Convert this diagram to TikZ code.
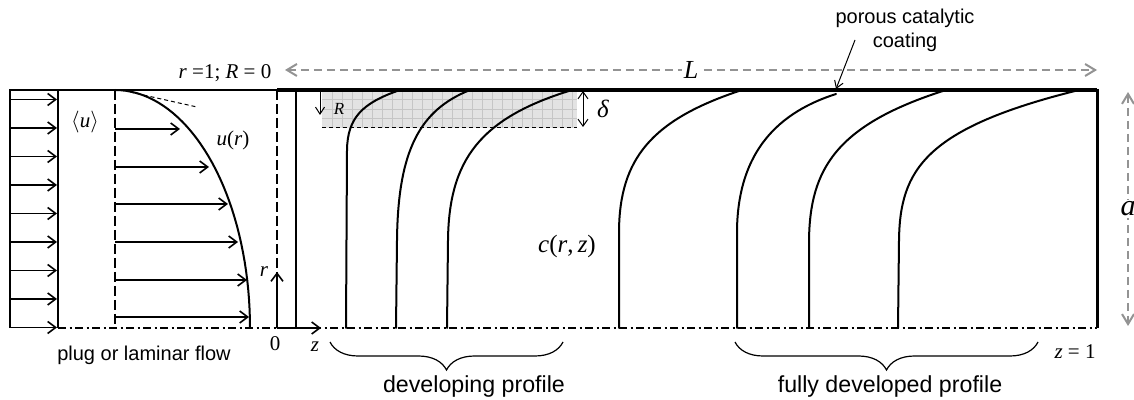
\documentclass[tikz,border=0pt]{standalone}
\usepackage{fontspec}
\setmainfont{Liberation Serif}
\setsansfont{Liberation Sans}
\usetikzlibrary{arrows.meta,decorations.pathreplacing}

\begin{document}
\begin{tikzpicture}[x=0.5pt, y=-0.5pt,
  wall/.style={line width=0.9pt},
  coat/.style={line width=1.9pt},
  profile/.style={line width=1pt, line cap=round},
  flowarrow/.style={-{Straight Barb[length=4pt,width=6pt]}, line width=0.8pt},
  thinarrow/.style={-{Straight Barb[length=3.5pt,width=4.5pt]}, line width=0.5pt},
  thindim/.style={{Straight Barb[length=3.5pt,width=5pt]}-{Straight Barb[length=3.5pt,width=5pt]}, line width=0.5pt},
  dimarrow/.style={{Straight Barb[length=5pt,width=6pt]}-{Straight Barb[length=5pt,width=6pt]}, draw=gray!85, line width=1pt, dash pattern=on 4pt off 2.5pt},
  axisline/.style={line width=0.8pt, dash pattern=on 4pt off 1.75pt on 1pt off 1.75pt},
  guide/.style={line width=0.8pt, dash pattern=on 5pt off 2pt},
  gridline/.style={draw=gray!45, line width=0.3pt},
  brc/.style={decorate, decoration={brace, amplitude=14pt}, line width=0.6pt},
  sans/.style={font=\sffamily\fontsize{10}{12}\selectfont, align=center, inner sep=1pt},
  caption/.style={font=\sffamily\fontsize{11.6}{14}\selectfont, inner sep=1pt},
  var/.style={font=\fontsize{10.5}{12}\selectfont, inner sep=1pt}
]
\useasboundingbox (0,0) rectangle (1134,400);

% key points
\coordinate (o) at (277,328);
\coordinate (rtip) at (277,272);
\coordinate (ztip) at (321,328);

% porous coating layer
\fill[gray!22] (322,90) rectangle (577,128);
\foreach \gx in {332,342,...,572}
  \draw[gridline] (\gx,90) -- (\gx,128);
\foreach \gy in {99.5,109,118.5}
  \draw[gridline] (322,\gy) -- (577,\gy);
\draw[line width=0.5pt, dash pattern=on 2pt off 1.5pt] (322,128) -- (577,128);

% centre line and walls
\draw[axisline] (58,328) -- (1097,328);
\draw[wall] (10,328) -- (10,90) -- (277,90);
\draw[wall] (58,90) -- (58,328);
\draw[wall] (296,90) -- (296,328);
\draw[guide] (115,90) -- (115,328);
\draw[guide] (277,90) -- (277,328);
\draw[coat] (277,90) -- (1097,90);
\draw[line width=1.5pt] (1097,89) -- (1097,328);

% plug flow
\foreach \i in {0,...,8}
  \draw[flowarrow] (10,{99.5+28.5*\i}) -- (57,{99.5+28.5*\i});

% laminar flow
\draw[profile] plot[domain=0:90, samples=40] ({115+135*cos(\x)}, {328-238*sin(\x)});
\draw[line width=0.5pt, dash pattern=on 2pt off 1.5pt] (130,92) -- (197,107);
\foreach \y/\tip in {129/180, 167/209, 204/228, 242/238, 280/247, 317/249}
  \draw[flowarrow] (115,\y) -- (\tip,\y);

\draw[flowarrow] (o) -- (rtip);
\draw[flowarrow] (o) -- (ztip);

% developing profiles
\draw[profile] (346,328) -- (347,150) .. controls (347.5,118) and (362,103) .. (400,90);
\draw[profile] (396,328) -- (397,240) .. controls (398,150) and (420,110) .. (470,90);
\draw[profile] (447,328) -- (448,240) .. controls (449,160) and (480,118) .. (572,90);

% fully developed profiles
\draw[profile] (619,328) -- (619,230) .. controls (620,160) and (650,120) .. (742,90);
\draw[profile] (737,328) -- (737,230) .. controls (738,160) and (770,115) .. (836,94);
\draw[profile] (809,328) -- (809,240) .. controls (810,170) and (835,125) .. (946,90);
\draw[profile] (898,328) -- (899,240) .. controls (900,170) and (925,128) .. (1079,90);

% dimensions
\coordinate (Rtop) at (320,92);
\coordinate (Rbot) at (320,115);
\draw[thinarrow] (Rtop) -- (Rbot);
\coordinate (dtop) at (583,91);
\coordinate (dbot) at (583,127);
\draw[thindim] (dtop) -- (dbot);
\coordinate (Lleft) at (285,70);
\coordinate (Lright) at (1097,70);
\draw[dimarrow] (Lleft) -- (Lright)
  node[midway, fill=white, inner sep=1pt, text=black, font=\fontsize{13}{14}\selectfont] (lenlbl) {\textit{L}};
\coordinate (atop) at (1128,92);
\coordinate (abot) at (1128,326);
\draw[dimarrow] (atop) -- (abot)
  node[midway, fill=white, inner sep=1pt, text=black, font=\fontsize{15}{16}\selectfont] (radlbl) {\textit{a}};

% labels
\node[var] (rR) at (225,73) {\textit{r} =1; \textit{R} = 0};
\node[var] (uavg) at (85,122) {$\langle$\textit{u}$\rangle$};
\node[var] (ur) at (233,140) {\textit{u}(\textit{r})};
\node[var, font=\fontsize{12.5}{14}\selectfont] (crz) at (567,246) {\textit{c}(\textit{r},\,\textit{z})};
\node[var] (rlbl) at (264,272) {\textit{r}};
\node[var] (zero) at (275,344) {0};
\node[var] (zlbl) at (315,347) {\textit{z}};
\node[var] (zone) at (1075,352) {\textit{z} = 1};
\node[var, font=\fontsize{8.5}{10}\selectfont] (Rlbl) at (339,109) {\textit{R}};
\node[var, font=\fontsize{12.5}{14}\selectfont] (dlbl) at (603,109) {\textit{δ}};

\node[sans] (coatlbl) at (905,30) {porous catalytic\\coating};
\coordinate (coatfoot) at (855,40);
\coordinate (coattip) at (836,89);
\draw[thinarrow] (coatfoot) -- (coattip);

\node[sans] (flowlbl) at (144,355) {plug or laminar flow};

% profile groups
\draw[brc] (563,342) -- (330,342);
\node[caption] (devlbl) at (474,387) {developing profile};
\draw[brc] (1038,342) -- (735,342);
\node[caption] (fulllbl) at (890,387) {fully developed profile};
\end{tikzpicture}
\end{document}
